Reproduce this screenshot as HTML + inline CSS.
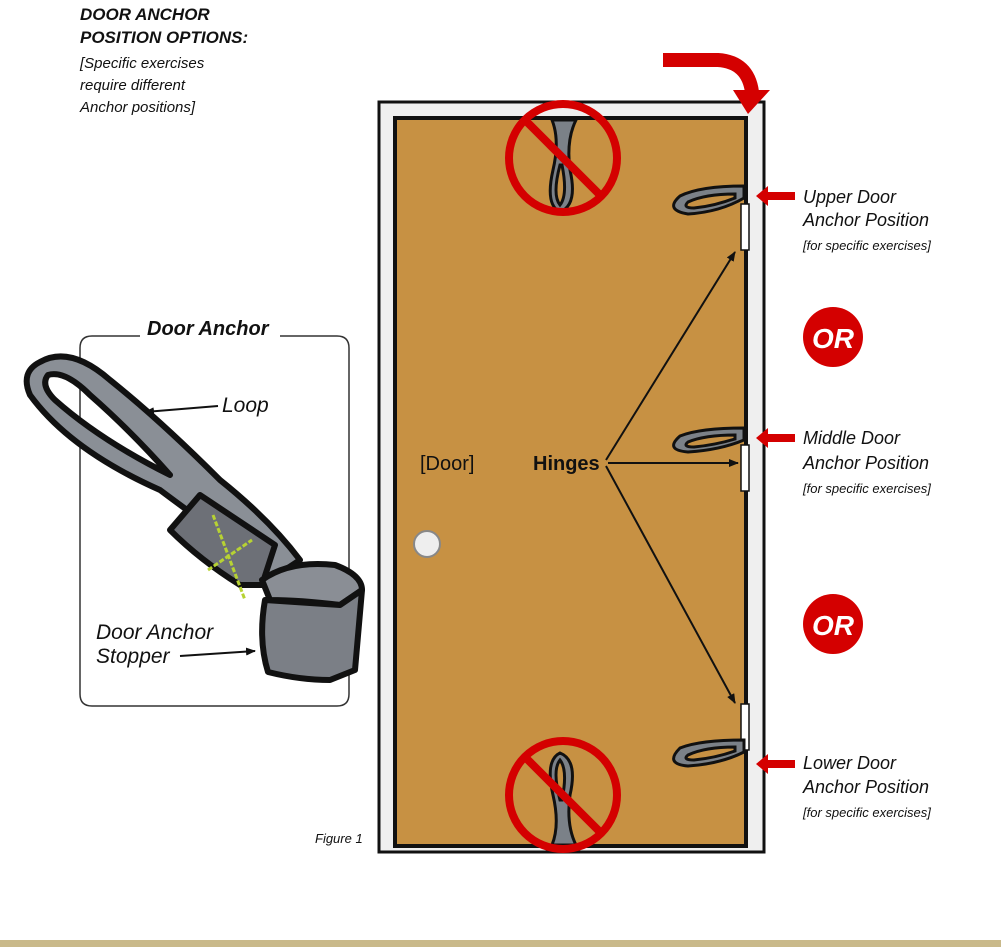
<!DOCTYPE html>
<html><head><style>
body{margin:0;background:#fff;width:1001px;height:947px;overflow:hidden;font-family:"Liberation Sans",sans-serif}
</style></head><body>
<svg width="1001" height="947" viewBox="0 0 1001 947" xmlns="http://www.w3.org/2000/svg" font-family="Liberation Sans, sans-serif">
<defs>
<marker id="ah" markerWidth="10" markerHeight="8" refX="9" refY="4" orient="auto" markerUnits="userSpaceOnUse"><path d="M0,0 L10,4 L0,8 Z" fill="#111"/></marker>
</defs>
<g font-style="italic" font-weight="bold" fill="#111">
<text x="80" y="20" font-size="17">DOOR ANCHOR</text>
<text x="80" y="43" font-size="17">POSITION OPTIONS:</text>
<text x="80" y="68" font-size="15" font-weight="normal">[Specific exercises</text>
<text x="80" y="90" font-size="15" font-weight="normal">require different</text>
<text x="80" y="112" font-size="15" font-weight="normal">Anchor positions]</text>
</g>
<rect x="379" y="102" width="385" height="750" fill="#efefef" stroke="#111" stroke-width="3"/>
<rect x="395" y="118" width="351" height="728" fill="#c79143" stroke="#111" stroke-width="4"/>
<path d="M663,60 L718,60 Q748,62 752,92" fill="none" stroke="#d40000" stroke-width="14"/>
<path d="M733,90 L770,90 L748,114 Z" fill="#d40000"/>
<g fill="#fff" stroke="#111" stroke-width="1.5">
<rect x="741" y="204" width="8" height="46"/><rect x="741" y="445" width="8" height="46"/><rect x="741" y="704" width="8" height="46"/>
</g>
<!-- loops -->
<g fill="#7b8188" stroke="#111" stroke-width="3" fill-rule="evenodd">
<path d="M744,186 Q700,186 680,196 Q664,210 688,214 Q720,212 744,198 Z M735,194 Q705,194 688,202 Q682,208 694,208 Q715,206 735,198 Z"/>
<path d="M744,428 Q700,428 680,436 Q664,450 688,452 Q720,450 744,440 Z M735,435 Q705,435 688,442 Q682,447 694,447 Q715,445 735,439 Z"/>
<path d="M744,740 Q700,740 680,748 Q664,764 688,766 Q720,764 744,752 Z M735,747 Q705,747 688,755 Q682,760 694,760 Q715,758 735,751 Z"/>
<path d="M552,120 Q560,140 553,170 Q545,205 560,212 Q578,205 570,170 Q566,140 576,120 Z M560,165 Q552,195 560,205 Q568,195 562,165 Z"/>
<path d="M552,845 Q560,825 553,795 Q545,760 560,753 Q578,760 570,795 Q566,825 576,845 Z M560,800 Q552,770 560,760 Q568,770 562,800 Z"/>
</g>
<g fill="none" stroke="#d40000" stroke-width="8">
<circle cx="563" cy="158" r="54"/><line x1="525" y1="120" x2="601" y2="196"/>
<circle cx="563" cy="795" r="54"/><line x1="525" y1="757" x2="601" y2="833"/>
</g>
<circle cx="427" cy="544" r="13" fill="#eee" stroke="#888" stroke-width="2"/>
<text x="420" y="470" font-size="20" fill="#111">[Door]</text>
<text x="533" y="470" font-size="20" font-weight="bold" fill="#111">Hinges</text>
<g stroke="#111" stroke-width="2" marker-end="url(#ah)">
<line x1="606" y1="460" x2="735" y2="252"/><line x1="608" y1="463" x2="738" y2="463"/><line x1="606" y1="466" x2="735" y2="703"/>
</g>
<g fill="#d40000">
<path d="M756,196 L768,186 L768,192 L795,192 L795,200 L768,200 L768,206 Z"/>
<path d="M756,438 L768,428 L768,434 L795,434 L795,442 L768,442 L768,448 Z"/>
<path d="M756,764 L768,754 L768,760 L795,760 L795,768 L768,768 L768,774 Z"/>
</g>
<g fill="#111" font-style="italic">
<text x="803" y="203" font-size="18">Upper Door</text><text x="803" y="226" font-size="18">Anchor Position</text><text x="803" y="250" font-size="13">[for specific exercises]</text>
<text x="803" y="444" font-size="18">Middle Door</text><text x="803" y="469" font-size="18">Anchor Position</text><text x="803" y="493" font-size="13">[for specific exercises]</text>
<text x="803" y="769" font-size="18">Lower Door</text><text x="803" y="793" font-size="18">Anchor Position</text><text x="803" y="817" font-size="13">[for specific exercises]</text>
<text x="315" y="843" font-size="13">Figure 1</text>
</g>
<g>
<circle cx="833" cy="337" r="30" fill="#d40000"/><text x="833" y="348" font-size="28" font-weight="bold" font-style="italic" fill="#fff" text-anchor="middle">OR</text>
<circle cx="833" cy="624" r="30" fill="#d40000"/><text x="833" y="635" font-size="28" font-weight="bold" font-style="italic" fill="#fff" text-anchor="middle">OR</text>
</g>
<path d="M140,336 L92,336 Q80,336 80,348 L80,694 Q80,706 92,706 L337,706 Q349,706 349,694 L349,348 Q349,336 337,336 L280,336" fill="none" stroke="#333" stroke-width="1.5"/>
<text x="147" y="335" font-size="20" font-weight="bold" font-style="italic" fill="#111">Door Anchor</text>
<g stroke="#111" stroke-width="6" stroke-linejoin="round" fill-rule="evenodd">
<path d="M40,362 Q20,372 30,395 Q70,450 160,490 Q200,520 230,540 L262,585 L300,560 Q270,520 220,480 Q160,420 110,380 Q70,345 40,362 Z M48,375 Q40,385 55,400 Q100,440 170,475 Q130,430 90,395 Q65,370 48,375 Z" fill="#8a8f96"/>
<path d="M200,495 L170,530 Q200,560 240,585 L262,585 L275,545 Z" fill="#6d7077"/>
<path d="M262,580 Q290,560 335,565 Q362,575 362,590 L340,605 Q300,600 270,600 Z" fill="#8a8e95"/>
<path d="M265,600 L340,605 L362,590 L355,670 L330,680 Q300,680 268,672 Q258,640 265,600 Z" fill="#7b7f86"/>
</g>
<g stroke="#b7d233" stroke-width="3" stroke-dasharray="5,2">
<line x1="213" y1="515" x2="245" y2="600"/><line x1="208" y1="570" x2="252" y2="540"/>
</g>
<text x="222" y="412" font-size="21" font-style="italic" fill="#111">Loop</text>
<line x1="218" y1="406" x2="145" y2="412" stroke="#111" stroke-width="2" marker-end="url(#ah)"/>
<text x="96" y="639" font-size="21" font-style="italic" fill="#111">Door Anchor</text>
<text x="96" y="663" font-size="21" font-style="italic" fill="#111">Stopper</text>
<line x1="180" y1="656" x2="255" y2="651" stroke="#111" stroke-width="2" marker-end="url(#ah)"/>
<rect x="0" y="940" width="1001" height="7" fill="#c9b98a"/>
</svg>
</body></html>
